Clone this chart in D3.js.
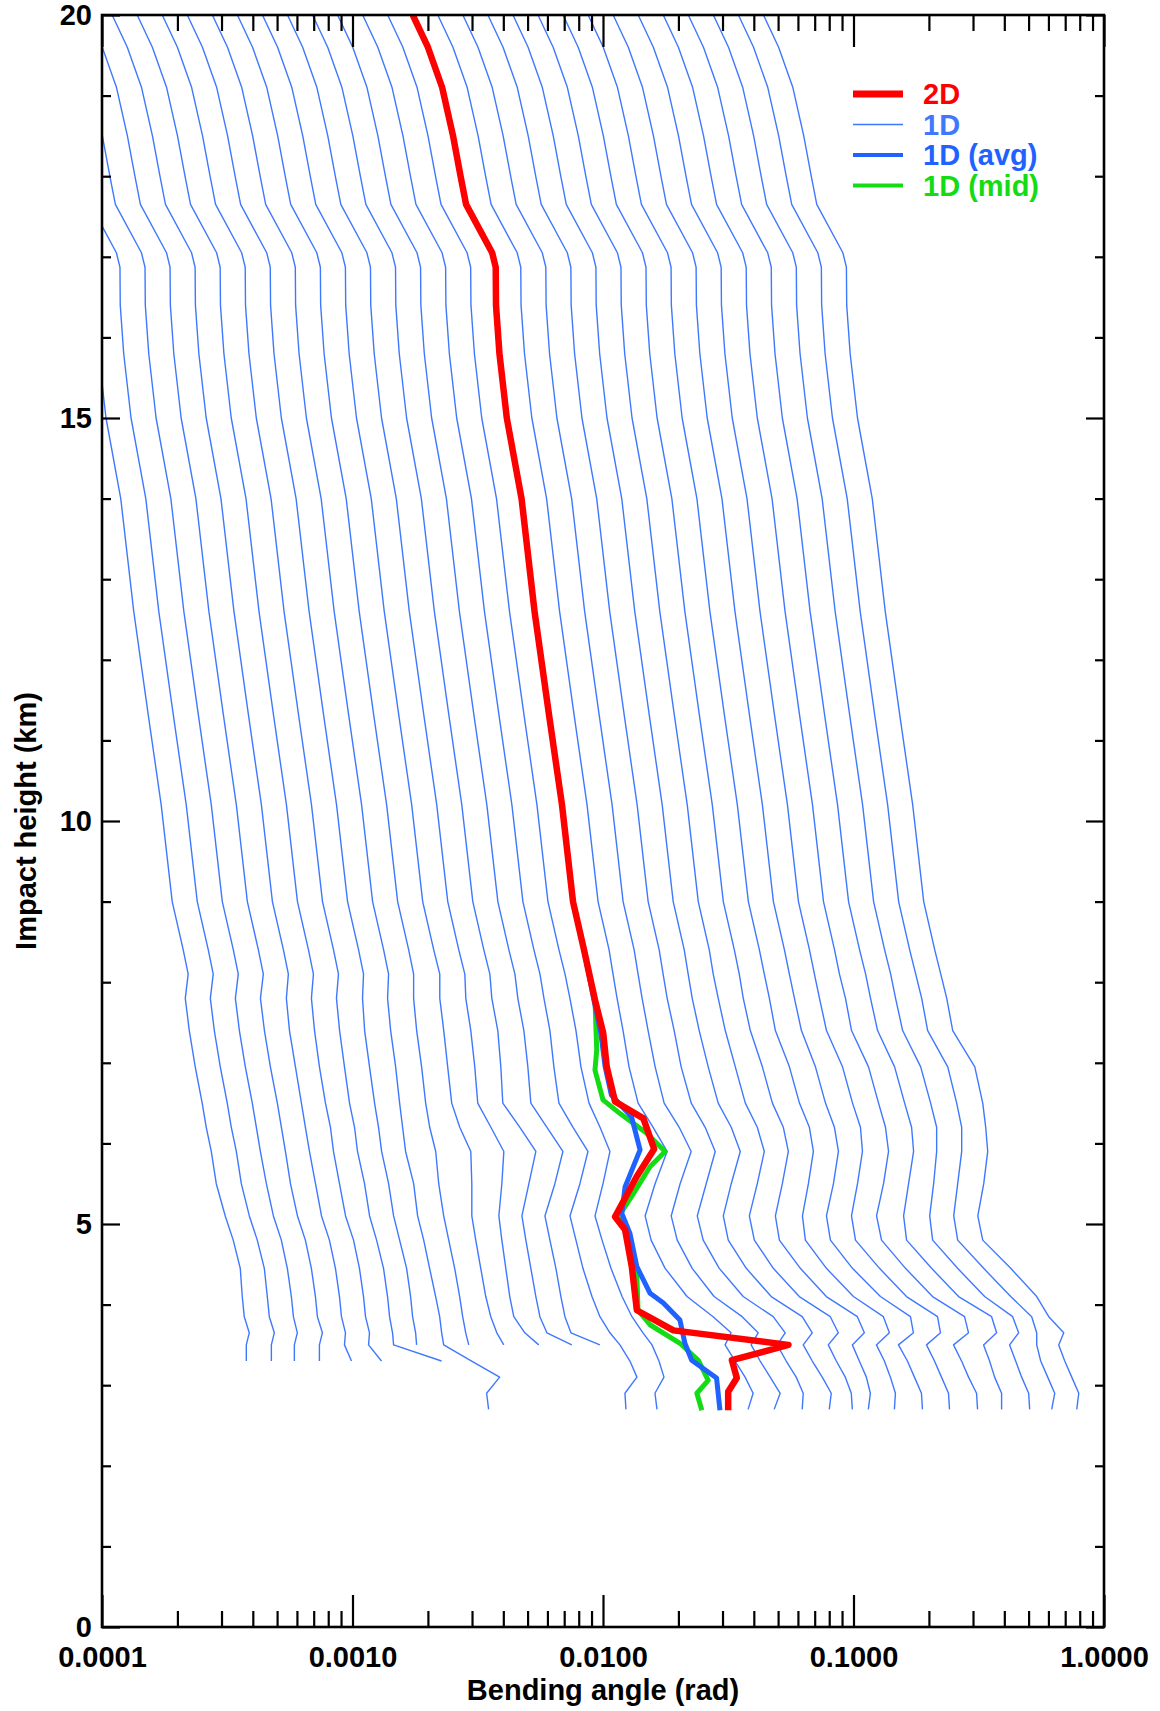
<!DOCTYPE html>
<html>
<head>
<meta charset="utf-8">
<script src="https://cdn.jsdelivr.net/npm/d3@7"></script>
<style>
  body { margin: 0; background: #fff; }
  text { font-family: "Liberation Sans", Arial, sans-serif; font-weight: bold; }
</style>
</head>
<body>
<svg id="chart" width="1160" height="1711"></svg>
<script>
// bending angles are in mrad, heights in km

// shared upper part of every profile (20 km down to 8.4 km)
var upperHeights = [20, 19.6, 19.1, 18.5, 18.0, 17.65, 17.05, 16.87, 16.4, 15.8, 15.0, 14.0, 12.6, 11.3, 10.2, 9.0, 8.4];
var upperAngles  = [1.74, 2.00, 2.28, 2.52, 2.70, 2.84, 3.61, 3.73, 3.74, 3.86, 4.13, 4.73, 5.33, 6.1, 6.86, 7.59, 8.40];

// lower part of the 1D profiles
var lowerHeights = [8.1, 7.8, 7.4, 6.95, 6.5, 6.2, 5.9, 5.5, 5.1, 4.8, 4.45, 4.1, 3.85, 3.65, 3.5, 3.3, 3.1, 2.9, 2.7];

// display offset of each 1D profile (decades)
var oneDShift = [-1.6, -1.5, -1.4, -1.3, -1.2, -1.1, -1.0, -0.9, -0.8, -0.7, -0.6, -0.5, -0.4, -0.3, -0.2, -0.1,
                 0.1, 0.2, 0.3, 0.4, 0.5, 0.6, 0.7, 0.8, 0.9, 1.0, 1.1, 1.2, 1.3, 1.4];

var oneDLower = [
  [8.79, 8.56, 8.88, 9.38, 10.00, 10.38, 10.87, 11.38, 12.36, 13.30, 14.19, 14.45, 14.72, 15.41, 15.00, 15.00],
  [8.79, 8.56, 8.88, 9.38, 10.00, 10.38, 10.87, 11.38, 12.25, 13.18, 14.06, 14.45, 14.72, 15.41, 15.00, 15.00],
  [8.79, 8.56, 8.88, 9.38, 10.00, 10.38, 10.77, 11.38, 12.14, 13.06, 13.80, 14.32, 14.59, 15.13, 14.72, 14.72],
  [8.79, 8.56, 8.88, 9.38, 10.00, 10.38, 10.77, 11.28, 12.03, 12.94, 13.67, 14.19, 14.45, 15.13, 14.72, 14.72],
  [8.79, 8.63, 8.88, 9.38, 9.91, 10.28, 10.67, 11.28, 11.92, 12.82, 13.55, 14.06, 14.32, 14.86, 14.72, 15.70],
  [8.79, 8.63, 8.88, 9.29, 9.82, 10.28, 10.57, 11.17, 11.81, 12.71, 13.42, 13.93, 14.19, 14.72, 14.59, 16.43],
  [8.79, 8.63, 8.88, 9.29, 9.73, 10.19, 10.47, 11.17, 11.70, 12.48, 13.30, 13.80, 14.06, 14.45, 14.59, 22.67],
  [8.79, 8.71, 8.88, 9.29, 9.73, 10.09, 10.38, 11.07, 11.59, 12.25, 13.06, 13.55, 13.80, 14.19, 14.32],
  [8.79, 8.71, 8.96, 9.38, 9.73, 10.00, 10.28, 11.07, 11.48, 12.14, 12.82, 13.55, 14.06, 14.32, 14.59, 18.86, 24.40, 21.65, 22.05],
  [8.79, 8.79, 9.04, 9.46, 9.82, 10.19, 10.77, 11.07, 11.59, 12.14, 12.82, 13.42, 13.80, 14.19, 14.59],
  [8.88, 8.88, 9.21, 9.55, 9.91, 10.67, 11.81, 11.92, 11.92, 12.36, 12.94, 13.55, 14.19, 15.00, 15.99],
  [8.88, 8.96, 9.38, 9.73, 10.00, 11.28, 12.71, 12.48, 12.14, 12.48, 12.94, 13.42, 13.93, 15.41, 17.52],
  [8.88, 9.04, 9.55, 9.82, 10.00, 11.70, 13.55, 12.71, 11.92, 12.36, 12.94, 13.55, 14.06, 15.00, 18.86],
  [8.88, 9.12, 9.64, 10.00, 10.28, 11.92, 13.80, 12.82, 11.70, 12.25, 12.94, 13.55, 14.06, 14.86, 19.39],
  [8.88, 9.21, 9.73, 10.09, 10.57, 12.03, 13.80, 12.82, 11.70, 12.36, 13.18, 14.32, 15.41, 16.89, 18.52, 20.30, 21.65, 19.39, 19.57],
  [8.88, 9.29, 9.82, 10.28, 11.07, 12.25, 13.42, 12.59, 11.70, 12.48, 13.55, 15.00, 16.43, 18.18, 19.75, 21.06, 22.05, 20.30, 20.68],
  [8.71, 9.04, 9.55, 10.09, 10.97, 12.59, 14.32, 12.82, 11.70, 12.36, 14.06, 17.20, 21.85, 25.78, 24.40, 26.75, 29.33, 31.57, 30.15],
  [8.71, 9.04, 9.55, 10.19, 11.07, 12.71, 14.19, 12.82, 11.81, 12.48, 14.32, 17.52, 22.67, 26.26, 24.63, 26.75, 29.33, 32.16, 30.43],
  [8.71, 9.04, 9.64, 10.28, 11.28, 12.82, 14.06, 12.94, 11.92, 12.59, 14.59, 18.18, 23.96, 26.75, 24.85, 27.00, 29.60, 31.57, 31.28],
  [8.71, 9.04, 9.64, 10.47, 11.48, 12.94, 14.06, 12.94, 12.03, 12.59, 14.86, 18.69, 24.85, 27.25, 25.08, 27.25, 29.87, 32.45, 31.86],
  [8.71, 9.12, 9.73, 10.67, 11.70, 13.06, 13.93, 13.06, 12.14, 12.71, 15.13, 19.21, 25.55, 27.50, 25.08, 27.00, 29.33, 30.99, 31.28],
  [8.79, 9.12, 9.73, 10.87, 11.92, 13.18, 13.80, 13.06, 12.25, 12.71, 15.41, 19.57, 26.02, 27.75, 24.85, 26.50, 28.27, 29.33, 28.79],
  [8.79, 9.21, 9.73, 11.07, 12.14, 13.30, 13.80, 13.18, 12.48, 12.82, 15.56, 19.94, 26.26, 27.75, 24.63, 26.50, 28.01, 29.33, 29.06],
  [8.79, 9.21, 9.82, 11.17, 12.25, 13.30, 13.80, 13.18, 12.36, 12.82, 15.70, 20.30, 26.75, 27.50, 23.96, 26.02, 27.75, 29.60, 29.87],
  [8.79, 9.21, 9.82, 11.38, 12.48, 13.42, 13.67, 13.06, 12.36, 12.82, 15.99, 20.49, 27.25, 28.01, 24.63, 26.50, 28.27, 30.15, 30.43],
  [8.79, 9.29, 9.82, 11.48, 12.59, 13.42, 13.80, 13.18, 12.36, 12.94, 16.13, 20.68, 27.75, 28.79, 25.08, 27.00, 28.79, 30.99, 31.28],
  [8.88, 9.29, 9.91, 11.59, 12.71, 13.55, 13.80, 13.18, 12.59, 12.94, 16.28, 20.87, 28.27, 29.60, 26.26, 27.75, 29.06, 30.99, 30.99],
  [8.88, 9.29, 9.91, 11.70, 12.82, 13.55, 13.55, 13.18, 12.71, 13.06, 16.43, 21.06, 27.25, 28.79, 26.50, 28.01, 29.60, 31.57, 31.86],
  [8.88, 9.38, 9.91, 11.92, 12.94, 13.55, 13.55, 13.06, 12.59, 13.06, 16.58, 21.26, 25.78, 27.00, 27.00, 28.01, 29.87, 31.86, 30.99],
  [8.88, 9.38, 9.91, 12.14, 13.06, 13.42, 13.67, 13.18, 12.48, 13.06, 16.89, 21.45, 23.96, 27.50, 26.26, 27.75, 29.60, 31.57, 30.99]
];

// 2D profile below 8.4 km
var twoDHeights = [7.78, 7.37, 6.95, 6.52, 6.31, 5.93, 5.59, 5.09, 4.93, 4.47, 3.93, 3.68, 3.50, 3.31, 3.09, 2.92, 2.69];
var twoDAngles  = [9.29, 10.02, 10.35, 11.17, 14.49, 16.0, 13.64, 11.17, 12.25, 13.03, 13.65, 19.1, 55.0, 32.7, 34.2, 31.6, 31.6];

// 1D average below 8.4 km
var avgHeights = [7.78, 7.37, 6.95, 6.6, 6.33, 5.92, 5.46, 5.13, 4.88, 4.47, 4.14, 4.02, 3.81, 3.52, 3.31, 3.09, 2.69];
var avgAngles  = [9.2, 9.8, 10.2, 10.8, 13.0, 14.06, 12.25, 11.89, 12.82, 13.65, 15.42, 17.42, 20.28, 21.23, 22.6, 28.4, 29.3];

// 1D middle below 8.4 km
var midHeights = [7.78, 7.16, 6.91, 6.54, 6.37, 6.13, 5.90, 5.71, 5.34, 5.09, 4.93, 4.35, 3.93, 3.75, 3.52, 3.31, 3.06, 2.90, 2.69];
var midAngles  = [9.29, 9.44, 9.29, 10.0, 11.7, 14.9, 17.7, 15.4, 13.0, 11.5, 12.2, 13.65, 13.8, 15.4, 20.3, 24.0, 26.3, 23.7, 24.8];

var xMajorTicks = [0.0001, 0.001, 0.01, 0.1, 1];
var yMajorTicks = [0, 5, 10, 15, 20];
var legendLabels = ["2D", "1D", "1D (avg)", "1D (mid)"];

var colors = { twoD: "#ff0000", oneD: "#3f78ff", avg: "#1f62ff", mid: "#14dc14" };
var fontSize = 29;

var svg = d3.select("#chart");
var plot = { left: 102, right: 1104, top: 15, bottom: 1627 };

var x = d3.scaleLog().domain([1e-4, 1]).range([plot.left, plot.right]);
var y = d3.scaleLinear().domain([0, 20]).range([plot.bottom, plot.top]);

function points(hs, vs, factor) {
  return vs.map(function(v, i) { return { h: hs[i], v: v / 1000 * factor }; });
}

var line = d3.line().x(function(d) { return x(d.v); }).y(function(d) { return y(d.h); });

svg.append("clipPath").attr("id", "clip")
  .append("rect")
  .attr("x", plot.left).attr("y", plot.top)
  .attr("width", plot.right - plot.left).attr("height", plot.bottom - plot.top);

var g = svg.append("g").attr("clip-path", "url(#clip)");

// 1D profiles, offset for display
oneDLower.forEach(function(lower, i) {
  var f = Math.pow(10, oneDShift[i]);
  var pts = points(upperHeights, upperAngles, f).concat(points(lowerHeights, lower, f));
  g.append("path").datum(pts)
    .attr("d", line)
    .attr("fill", "none")
    .attr("stroke", colors.oneD)
    .attr("stroke-width", 1.4)
    .attr("stroke-linejoin", "round");
});

function profile(hs, vs, color, width) {
  var pts = points(upperHeights, upperAngles, 1).concat(points(hs, vs, 1));
  g.append("path").datum(pts)
    .attr("d", line)
    .attr("fill", "none")
    .attr("stroke", color)
    .attr("stroke-width", width)
    .attr("stroke-linejoin", "round");
}
profile(midHeights, midAngles, colors.mid, 5);
profile(avgHeights, avgAngles, colors.avg, 5);
profile(twoDHeights, twoDAngles, colors.twoD, 6.5);

// minor ticks
var xMinor = [];
xMajorTicks.slice(0, 4).forEach(function(d) {
  for (var m = 2; m <= 9; m++) xMinor.push(d * m);
});
var yMinor = d3.range(0, 21).filter(function(d) { return d % 5 !== 0; });

function styleAxis(sel) {
  sel.select(".domain").remove();
  sel.selectAll("line").attr("stroke", "#000").attr("stroke-width", 2.2);
  sel.selectAll("text").attr("fill", "#000");
  sel.attr("font-size", fontSize).attr("font-family", "Liberation Sans, Arial, sans-serif").attr("font-weight", "bold");
}

svg.append("g").attr("transform", "translate(0," + plot.bottom + ")")
  .call(d3.axisBottom(x).tickValues(xMajorTicks).tickSize(-32).tickPadding(19).tickFormat(d3.format(".4f")))
  .call(styleAxis);
svg.append("g").attr("transform", "translate(0," + plot.bottom + ")")
  .call(d3.axisBottom(x).tickValues(xMinor).tickSize(-16).tickFormat(""))
  .call(styleAxis);
svg.append("g").attr("transform", "translate(0," + plot.top + ")")
  .call(d3.axisTop(x).tickValues(xMajorTicks).tickSize(-32).tickFormat(""))
  .call(styleAxis);
svg.append("g").attr("transform", "translate(0," + plot.top + ")")
  .call(d3.axisTop(x).tickValues(xMinor).tickSize(-16).tickFormat(""))
  .call(styleAxis);

svg.append("g").attr("transform", "translate(" + plot.left + ",0)")
  .call(d3.axisLeft(y).tickValues(yMajorTicks).tickSize(-18).tickPadding(10).tickFormat(d3.format("d")))
  .call(styleAxis);
svg.append("g").attr("transform", "translate(" + plot.left + ",0)")
  .call(d3.axisLeft(y).tickValues(yMinor).tickSize(-9).tickFormat(""))
  .call(styleAxis);
svg.append("g").attr("transform", "translate(" + plot.right + ",0)")
  .call(d3.axisRight(y).tickValues(yMajorTicks).tickSize(-18).tickFormat(""))
  .call(styleAxis);
svg.append("g").attr("transform", "translate(" + plot.right + ",0)")
  .call(d3.axisRight(y).tickValues(yMinor).tickSize(-9).tickFormat(""))
  .call(styleAxis);

// frame
svg.append("rect")
  .attr("x", plot.left).attr("y", plot.top)
  .attr("width", plot.right - plot.left).attr("height", plot.bottom - plot.top)
  .attr("fill", "none").attr("stroke", "#000").attr("stroke-width", 2.6);

// axis titles
svg.append("text")
  .attr("x", (plot.left + plot.right) / 2).attr("y", 1700)
  .attr("text-anchor", "middle").attr("font-size", fontSize).attr("fill", "#000")
  .text("Bending angle (rad)");
svg.append("text")
  .attr("transform", "translate(36," + (plot.top + plot.bottom) / 2 + ") rotate(-90)")
  .attr("text-anchor", "middle").attr("font-size", fontSize).attr("fill", "#000")
  .text("Impact height (km)");

// legend
var legendColors = [colors.twoD, colors.oneD, colors.avg, colors.mid];
var legendWidths = [7, 1.6, 4, 4];
var legend = svg.append("g").attr("transform", "translate(853,94)");
legendLabels.forEach(function(lab, i) {
  var row = legend.append("g").attr("transform", "translate(0," + (i * 30.5) + ")");
  row.append("line").attr("x1", 0).attr("x2", 50).attr("y1", 0).attr("y2", 0)
    .attr("stroke", legendColors[i]).attr("stroke-width", legendWidths[i]);
  row.append("text").attr("x", 70).attr("y", 0).attr("dy", "0.36em")
    .attr("font-size", fontSize).attr("fill", legendColors[i]).text(lab);
});
</script>
</body>
</html>
